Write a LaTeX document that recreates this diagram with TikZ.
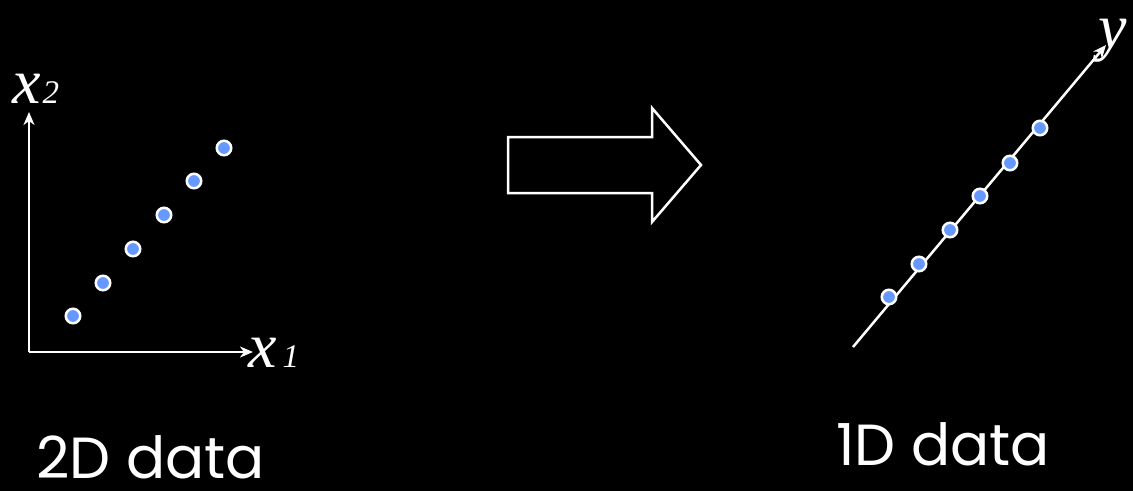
\documentclass[tikz,border=0pt]{standalone}
\usepackage{fontspec}
\setmainfont{Liberation Serif}
\newfontfamily\labelfont{Poppins}
\usepackage{xcolor}
\usetikzlibrary{arrows.meta, positioning}
\definecolor{dotblue}{HTML}{6699FF}

\begin{document}
\begin{tikzpicture}[x=1pt, y=-1pt,
      axis/.style={draw=white, line width=2.5pt, -{Stealth[length=13pt, width=11pt, inset=4pt]}},
      dot/.style={circle, draw=white, line width=2.5pt, fill=dotblue, inner sep=0pt, minimum size=14.5pt},
      varlabel/.style={text=white, inner sep=0pt, anchor=base west, font=\itshape\fontsize{64}{64}\selectfont},
      caption/.style={text=white, inner sep=0pt, anchor=base west, font=\labelfont\fontsize{58}{58}\selectfont},
      bigarrow/.style={draw=white, line width=2.5pt, line join=miter}
    ]
    \fill[black] (0,0) rectangle (1133,491);
    \useasboundingbox (0,0) rectangle (1133,491);

    % left: 2D axes
    \coordinate (origin) at (29,352);
    \coordinate (xend) at (253,352);
    \coordinate (yend) at (29,112);
    \draw[axis] (origin) -- (xend);
    \draw[axis] (origin) -- (yend);
    \node[varlabel] (xtwo) at (12,103) {x\kern2pt{\fontsize{33}{33}\selectfont 2}};
    \node[varlabel] (xone) at (248,367) {x\kern6pt{\fontsize{33}{33}\selectfont 1}};

    \node[dot] (p1) at (73,316) {};
    \node[dot] (p2) at (103,283) {};
    \node[dot] (p3) at (133,249) {};
    \node[dot] (p4) at (164,215) {};
    \node[dot] (p5) at (194,181) {};
    \node[dot] (p6) at (224,148) {};

    % middle: block arrow
    \draw[bigarrow] (508,137) -- (652,137) -- (652,108) -- (701,165)
      -- (652,222) -- (652,193) -- (508,193) -- cycle;

    % right: 1D axis
    \coordinate (lstart) at (853,347);
    \coordinate (lend) at (1106,45);
    \draw[axis] (lstart) -- (lend);
    \node[varlabel] (ylab) at (1098,48) {y};

    \node[dot] (q1) at (889,297) {};
    \node[dot] (q2) at (919,264) {};
    \node[dot] (q3) at (950,230) {};
    \node[dot] (q4) at (980,196) {};
    \node[dot] (q5) at (1010,163) {};
    \node[dot] (q6) at (1040,128) {};

    % captions
    \node[caption] (twod) at (36,478) {2D data};
    \node[caption] (oned) at (836,465) {1D data};
  \end{tikzpicture}
\end{document}
